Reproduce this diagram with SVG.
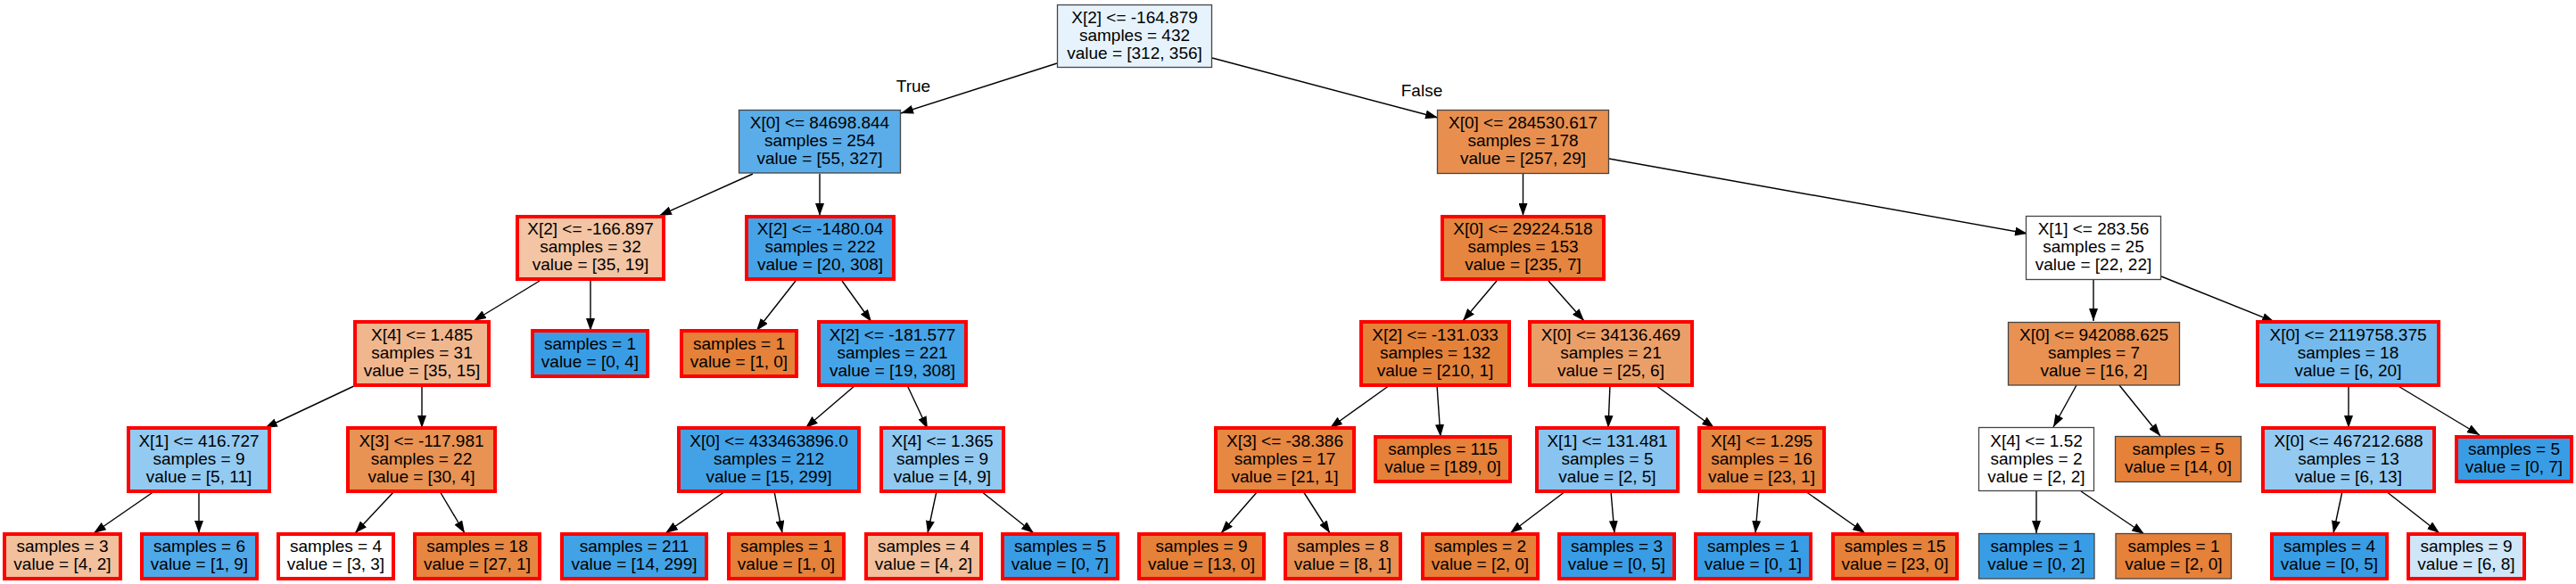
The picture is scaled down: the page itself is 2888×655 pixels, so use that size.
<svg xmlns="http://www.w3.org/2000/svg" width="2888" height="655" viewBox="0 0 2888 655">
<style>
.red{stroke:#ff0000;stroke-width:4}
.thin{stroke:#454545;stroke-width:1.3}
text{font-family:"Liberation Sans",Arial,sans-serif;font-size:19px;text-anchor:middle;fill:#000}
.edges line{stroke:#000;stroke-width:1.4;marker-end:url(#ah)}
</style>
<defs>
<marker id="ah" viewBox="0 0 14 10" refX="14" refY="5" markerWidth="14" markerHeight="10" markerUnits="userSpaceOnUse" orient="auto"><path d="M0,0 L14,5 L0,10 z" fill="#000"/></marker>
</defs>
<rect width="2888" height="655" fill="#fff"/>
<g id="connectors" class="edges">
<line x1="1185" y1="71" x2="1010" y2="127"/>
<line x1="1359" y1="65" x2="1612" y2="132"/>
<line x1="844" y1="195" x2="739" y2="242"/>
<line x1="919" y1="195" x2="919" y2="242"/>
<line x1="605" y1="315" x2="531" y2="360"/>
<line x1="662" y1="315" x2="662" y2="371"/>
<line x1="892" y1="315" x2="848" y2="371"/>
<line x1="944" y1="315" x2="977" y2="361"/>
<line x1="399" y1="432" x2="297" y2="480"/>
<line x1="473" y1="434" x2="473" y2="480"/>
<line x1="173" y1="551" x2="105" y2="598"/>
<line x1="223" y1="553" x2="223" y2="598"/>
<line x1="442" y1="551" x2="398" y2="598"/>
<line x1="493" y1="551" x2="521" y2="598"/>
<line x1="959" y1="432" x2="903" y2="480"/>
<line x1="1017" y1="432" x2="1040" y2="481"/>
<line x1="813" y1="551" x2="746" y2="598"/>
<line x1="868" y1="551" x2="877" y2="598"/>
<line x1="1050" y1="551" x2="1040" y2="598"/>
<line x1="1100" y1="551" x2="1159" y2="598"/>
<line x1="1707.5" y1="195" x2="1707.5" y2="242"/>
<line x1="1804" y1="178" x2="2273" y2="262"/>
<line x1="1678" y1="315" x2="1640" y2="360"/>
<line x1="1736" y1="315" x2="1776" y2="360"/>
<line x1="1558" y1="432" x2="1491" y2="480"/>
<line x1="1611" y1="432" x2="1615" y2="490"/>
<line x1="1410" y1="551" x2="1369" y2="598"/>
<line x1="1461" y1="551" x2="1491" y2="598"/>
<line x1="1805" y1="432" x2="1803" y2="480"/>
<line x1="1856" y1="432" x2="1922" y2="480"/>
<line x1="1755" y1="551" x2="1693" y2="598"/>
<line x1="1806" y1="551" x2="1810" y2="598"/>
<line x1="1972" y1="551" x2="1968" y2="598"/>
<line x1="2024" y1="551" x2="2091" y2="598"/>
<line x1="2347" y1="314" x2="2347" y2="360"/>
<line x1="2423" y1="310" x2="2550" y2="361"/>
<line x1="2328" y1="432" x2="2302" y2="479"/>
<line x1="2376" y1="432" x2="2422" y2="489"/>
<line x1="2283" y1="551" x2="2283" y2="598"/>
<line x1="2333" y1="551" x2="2404" y2="599"/>
<line x1="2633" y1="432" x2="2633" y2="480"/>
<line x1="2687" y1="432" x2="2780" y2="488"/>
<line x1="2626" y1="551" x2="2616" y2="598"/>
<line x1="2675" y1="551" x2="2735" y2="598"/>
<text x="1024" y="103">True</text>
<text x="1594" y="107.5">False</text>
</g>
<g id="n0"><rect class="thin" x="1185.5" y="5.5" width="173" height="70" fill="#e7f3fc"/><text x="1272" y="26">X[2] &lt;= -164.879</text><text x="1272" y="46">samples = 432</text><text x="1272" y="66">value = [312, 356]</text></g>
<g id="n1"><rect class="thin" x="828.5" y="123.5" width="181" height="70.5" fill="#5aade9"/><text x="919" y="144">X[0] &lt;= 84698.844</text><text x="919" y="164">samples = 254</text><text x="919" y="184">value = [55, 327]</text></g>
<g id="n2"><rect class="red" x="580" y="243" width="164" height="70" fill="#f3c5a4"/><text x="662" y="263.3">X[2] &lt;= -166.897</text><text x="662" y="283.3">samples = 32</text><text x="662" y="303.3">value = [35, 19]</text></g>
<g id="n3"><rect class="red" x="398" y="361" width="150" height="71" fill="#f0b78e"/><text x="473" y="381.8">X[4] &lt;= 1.485</text><text x="473" y="401.8">samples = 31</text><text x="473" y="421.8">value = [35, 15]</text></g>
<g id="n4"><rect class="red" x="144" y="480" width="158" height="71" fill="#93caf1"/><text x="223" y="500.8">X[1] &lt;= 416.727</text><text x="223" y="520.8">samples = 9</text><text x="223" y="540.8">value = [5, 11]</text></g>
<g id="n5"><rect class="red" x="5" y="599" width="130" height="50" fill="#f2c09c"/><text x="70" y="619.3">samples = 3</text><text x="70" y="639.3">value = [4, 2]</text></g>
<g id="n6"><rect class="red" x="159" y="599" width="129" height="50" fill="#4fa8e8"/><text x="223.5" y="619.3">samples = 6</text><text x="223.5" y="639.3">value = [1, 9]</text></g>
<g id="n7"><rect class="red" x="390" y="480" width="165" height="71" fill="#e89253"/><text x="472.5" y="500.8">X[3] &lt;= -117.981</text><text x="472.5" y="520.8">samples = 22</text><text x="472.5" y="540.8">value = [30, 4]</text></g>
<g id="n8"><rect class="red" x="312" y="599" width="129" height="50" fill="#ffffff"/><text x="376.5" y="619.3">samples = 4</text><text x="376.5" y="639.3">value = [3, 3]</text></g>
<g id="n9"><rect class="red" x="465" y="599" width="140" height="50" fill="#e68640"/><text x="535" y="619.3">samples = 18</text><text x="535" y="639.3">value = [27, 1]</text></g>
<g id="n10"><rect class="red" x="597" y="371" width="129" height="51" fill="#399de5"/><text x="661.5" y="391.8">samples = 1</text><text x="661.5" y="411.8">value = [0, 4]</text></g>
<g id="n11"><rect class="red" x="837" y="243" width="165" height="70" fill="#46a3e7"/><text x="919.5" y="263.3">X[2] &lt;= -1480.04</text><text x="919.5" y="283.3">samples = 222</text><text x="919.5" y="303.3">value = [20, 308]</text></g>
<g id="n12"><rect class="red" x="764" y="371" width="129" height="51" fill="#e58139"/><text x="828.5" y="391.8">samples = 1</text><text x="828.5" y="411.8">value = [1, 0]</text></g>
<g id="n13"><rect class="red" x="918" y="361" width="165" height="71" fill="#45a3e7"/><text x="1000.5" y="381.8">X[2] &lt;= -181.577</text><text x="1000.5" y="401.8">samples = 221</text><text x="1000.5" y="421.8">value = [19, 308]</text></g>
<g id="n14"><rect class="red" x="761" y="480" width="202" height="71" fill="#43a2e6"/><text x="862" y="500.8">X[0] &lt;= 433463896.0</text><text x="862" y="520.8">samples = 212</text><text x="862" y="540.8">value = [15, 299]</text></g>
<g id="n15"><rect class="red" x="630" y="599" width="162" height="50" fill="#42a2e6"/><text x="711" y="619.3">samples = 211</text><text x="711" y="639.3">value = [14, 299]</text></g>
<g id="n16"><rect class="red" x="817" y="599" width="129" height="50" fill="#e58139"/><text x="881.5" y="619.3">samples = 1</text><text x="881.5" y="639.3">value = [1, 0]</text></g>
<g id="n17"><rect class="red" x="988" y="480" width="137" height="71" fill="#91c9f1"/><text x="1056.5" y="500.8">X[4] &lt;= 1.365</text><text x="1056.5" y="520.8">samples = 9</text><text x="1056.5" y="540.8">value = [4, 9]</text></g>
<g id="n18"><rect class="red" x="971" y="599" width="129" height="50" fill="#f2c09c"/><text x="1035.5" y="619.3">samples = 4</text><text x="1035.5" y="639.3">value = [4, 2]</text></g>
<g id="n19"><rect class="red" x="1124" y="599" width="129" height="50" fill="#399de5"/><text x="1188.5" y="619.3">samples = 5</text><text x="1188.5" y="639.3">value = [0, 7]</text></g>
<g id="n20"><rect class="thin" x="1611.5" y="123.5" width="192" height="71" fill="#e88f4f"/><text x="1707.5" y="144.3">X[0] &lt;= 284530.617</text><text x="1707.5" y="164.3">samples = 178</text><text x="1707.5" y="184.3">value = [257, 29]</text></g>
<g id="n21"><rect class="red" x="1617" y="243" width="181" height="70" fill="#e6853f"/><text x="1707.5" y="263.3">X[0] &lt;= 29224.518</text><text x="1707.5" y="283.3">samples = 153</text><text x="1707.5" y="303.3">value = [235, 7]</text></g>
<g id="n22"><rect class="red" x="1526" y="361" width="166" height="71" fill="#e5823a"/><text x="1609" y="381.8">X[2] &lt;= -131.033</text><text x="1609" y="401.8">samples = 132</text><text x="1609" y="421.8">value = [210, 1]</text></g>
<g id="n23"><rect class="red" x="1363" y="480" width="155" height="71" fill="#e68742"/><text x="1440.5" y="500.8">X[3] &lt;= -38.386</text><text x="1440.5" y="520.8">samples = 17</text><text x="1440.5" y="540.8">value = [21, 1]</text></g>
<g id="n24"><rect class="red" x="1277" y="599" width="140" height="50" fill="#e58139"/><text x="1347" y="619.3">samples = 9</text><text x="1347" y="639.3">value = [13, 0]</text></g>
<g id="n25"><rect class="red" x="1441" y="599" width="129" height="50" fill="#e89152"/><text x="1505.5" y="619.3">samples = 8</text><text x="1505.5" y="639.3">value = [8, 1]</text></g>
<g id="n26"><rect class="red" x="1542" y="490" width="151" height="50" fill="#e58139"/><text x="1617.5" y="510.3">samples = 115</text><text x="1617.5" y="530.3">value = [189, 0]</text></g>
<g id="n27"><rect class="red" x="1715" y="361" width="182" height="71" fill="#eb9f68"/><text x="1806" y="381.8">X[0] &lt;= 34136.469</text><text x="1806" y="401.8">samples = 21</text><text x="1806" y="421.8">value = [25, 6]</text></g>
<g id="n28"><rect class="red" x="1723" y="480" width="158" height="71" fill="#88c4ef"/><text x="1802" y="500.8">X[1] &lt;= 131.481</text><text x="1802" y="520.8">samples = 5</text><text x="1802" y="540.8">value = [2, 5]</text></g>
<g id="n29"><rect class="red" x="1595" y="599" width="129" height="50" fill="#e58139"/><text x="1659.5" y="619.3">samples = 2</text><text x="1659.5" y="639.3">value = [2, 0]</text></g>
<g id="n30"><rect class="red" x="1748" y="599" width="129" height="50" fill="#399de5"/><text x="1812.5" y="619.3">samples = 3</text><text x="1812.5" y="639.3">value = [0, 5]</text></g>
<g id="n31"><rect class="red" x="1905" y="480" width="140" height="71" fill="#e68742"/><text x="1975" y="500.8">X[4] &lt;= 1.295</text><text x="1975" y="520.8">samples = 16</text><text x="1975" y="540.8">value = [23, 1]</text></g>
<g id="n32"><rect class="red" x="1901" y="599" width="129" height="50" fill="#399de5"/><text x="1965.5" y="619.3">samples = 1</text><text x="1965.5" y="639.3">value = [0, 1]</text></g>
<g id="n33"><rect class="red" x="2055" y="599" width="139" height="50" fill="#e58139"/><text x="2124.5" y="619.3">samples = 15</text><text x="2124.5" y="639.3">value = [23, 0]</text></g>
<g id="n34"><rect class="thin" x="2271.5" y="242.5" width="151" height="71" fill="#ffffff"/><text x="2347" y="263.3">X[1] &lt;= 283.56</text><text x="2347" y="283.3">samples = 25</text><text x="2347" y="303.3">value = [22, 22]</text></g>
<g id="n35"><rect class="thin" x="2251.5" y="361.5" width="192" height="70.5" fill="#e89152"/><text x="2347.5" y="381.8">X[0] &lt;= 942088.625</text><text x="2347.5" y="401.8">samples = 7</text><text x="2347.5" y="421.8">value = [16, 2]</text></g>
<g id="n36"><rect class="thin" x="2218.5" y="479.5" width="129" height="71" fill="#ffffff"/><text x="2283" y="500.8">X[4] &lt;= 1.52</text><text x="2283" y="520.8">samples = 2</text><text x="2283" y="540.8">value = [2, 2]</text></g>
<g id="n37"><rect class="thin" x="2218.5" y="598.5" width="129.5" height="50.5" fill="#399de5"/><text x="2283" y="619.3">samples = 1</text><text x="2283" y="639.3">value = [0, 2]</text></g>
<g id="n38"><rect class="thin" x="2372" y="598.5" width="129.5" height="50.5" fill="#e58139"/><text x="2437" y="619.3">samples = 1</text><text x="2437" y="639.3">value = [2, 0]</text></g>
<g id="n39"><rect class="thin" x="2371.5" y="489.5" width="141" height="51" fill="#e58139"/><text x="2442" y="510.3">samples = 5</text><text x="2442" y="530.3">value = [14, 0]</text></g>
<g id="n40"><rect class="red" x="2531" y="361" width="203" height="71" fill="#74baed"/><text x="2632.5" y="381.8">X[0] &lt;= 2119758.375</text><text x="2632.5" y="401.8">samples = 18</text><text x="2632.5" y="421.8">value = [6, 20]</text></g>
<g id="n41"><rect class="red" x="2537" y="480" width="192" height="71" fill="#94caf1"/><text x="2633" y="500.8">X[0] &lt;= 467212.688</text><text x="2633" y="520.8">samples = 13</text><text x="2633" y="540.8">value = [6, 13]</text></g>
<g id="n42"><rect class="red" x="2547" y="599" width="129" height="50" fill="#399de5"/><text x="2611.5" y="619.3">samples = 4</text><text x="2611.5" y="639.3">value = [0, 5]</text></g>
<g id="n43"><rect class="red" x="2700" y="599" width="130" height="50" fill="#cee6f8"/><text x="2765" y="619.3">samples = 9</text><text x="2765" y="639.3">value = [6, 8]</text></g>
<g id="n44"><rect class="red" x="2754" y="490" width="129" height="50" fill="#399de5"/><text x="2818.5" y="510.3">samples = 5</text><text x="2818.5" y="530.3">value = [0, 7]</text></g>
</svg>
